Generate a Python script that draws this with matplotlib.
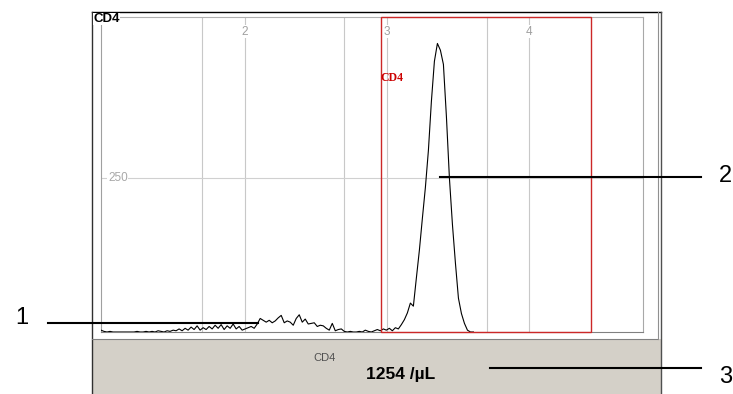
import numpy as np
import matplotlib
matplotlib.use("Agg")
import matplotlib.pyplot as plt
from matplotlib.patches import Rectangle

plt.rcParams['font.family'] = ['Liberation Sans', 'DejaVu Sans']

# CD4 histogram, counts per channel
cd4_counts = [
    3, 1, 0, 1, 0, 0, 0, 0, 0, 0, 0, 0,
    1, 0, 0, 1, 0, 1, 0, 2, 1, 0, 2, 1,
    3, 2, 5, 2, 6, 3, 8, 4, 10, 3, 7, 4,
    9, 5, 11, 6, 12, 4, 10, 6, 13, 5, 9, 3,
    5, 7, 9, 6, 13, 22, 19, 16, 19, 15, 18, 23,
    27, 15, 18, 16, 11, 22, 28, 16, 21, 13, 14, 15,
    9, 11, 10, 6, 3, 14, 2, 4, 5, 1, 0, 1,
    0, 0, 1, 0, 3, 1, 0, 2, 4, 2, 5, 3,
    6, 2, 7, 5,
    12, 20, 31, 47, 42, 88, 133, 185, 235, 295, 375, 440,
    469, 458, 435, 350, 250, 175, 112, 55, 30, 14, 3, 0, 0,
]
x_range = (9.7, 63000)          # fluorescence range of the axis
ch_per_decade = 47.33
grid_values = [50, 100, 500, 1000, 5000, 10000]
decade_values = [100, 1000, 10000]
decade_labels = ["2", "3", "4"]
y_max = 512
y_grid = 250
gate = (900, 27000)
gate_name = "CD4"
result_text = "1254 /\u00b5L"
callouts = ["1", "2", "3"]

log_lo = np.log10(x_range[0])


def chan(v):
    return (np.log10(v) - log_lo) * ch_per_decade


W, H = 733, 394
fig = plt.figure(figsize=(W / 100, H / 100), dpi=100)


def box(x0, y0, x1, y1):
    return [x0 / W, 1 - y1 / H, (x1 - x0) / W, (y1 - y0) / H]


# background window
bg = fig.add_axes([0, 0, 1, 1], zorder=0)
bg.set_xlim(0, W)
bg.set_ylim(H, 0)
bg.axis('off')
bg.add_patch(Rectangle((92, 339), 569, 55, fc='#D4D0C8', ec='none'))
bg.plot([92, 661], [12, 12], color='black', lw=1)
bg.plot([92, 92], [12, 394], color='#303030', lw=1)
bg.plot([661, 661], [12, 394], color='#505050', lw=1)
bg.plot([92, 658], [339, 339], color='#808080', lw=0.8)
bg.plot([658, 658], [12, 339], color='#909090', lw=0.8)

# histogram
ax = fig.add_axes(box(101, 17, 643, 332), zorder=1)
ax.patch.set_alpha(0)
ch = np.arange(len(cd4_counts))
ax.plot(ch, cd4_counts, color='black', lw=0.8, zorder=3)
ax.set_xlim(0, chan(x_range[1]))
ax.set_ylim(0, y_max)
ax.set_xticks([])
ax.set_yticks([])
for v in grid_values:
    ax.axvline(chan(v), color='#C8C8C8', lw=0.8, zorder=0)
ax.axhline(y_grid, color='#D0D0D0', lw=0.8, zorder=0)
for v, lab in zip(decade_values, decade_labels):
    ax.text(chan(v), 0.953, lab, transform=ax.get_xaxis_transform(),
            ha='center', va='center', color='#A0A0A0', fontsize=8.5,
            bbox=dict(fc='white', ec='none', pad=0.4), zorder=1)
ax.text(0.013, y_grid, str(y_grid), transform=ax.get_yaxis_transform(),
        ha='left', va='center', color='#A8A8A8', fontsize=8.5,
        bbox=dict(fc='white', ec='none', pad=0.4), zorder=1)
ax.spines['top'].set_color('#B0B0B0')
ax.spines['left'].set_color('#A0A0A0')
ax.spines['right'].set_color('#A8A8A8')
ax.spines['bottom'].set_color('#808080')
for s in ax.spines.values():
    s.set_linewidth(0.8)

# gate
ax.add_patch(Rectangle((chan(gate[0]), 0), chan(gate[1]) - chan(gate[0]), y_max,
                       fill=False, ec='#CC2828', lw=1, zorder=4, clip_on=False))
ax.text(chan(gate[0]), 413, gate_name, color='#CC0000', fontweight='bold',
        family=['Liberation Serif', 'DejaVu Serif'], fontsize=8.5,
        ha='left', va='center', zorder=5)

# overlay: labels and callouts
ov = fig.add_axes([0, 0, 1, 1], zorder=5)
ov.set_xlim(0, W)
ov.set_ylim(H, 0)
ov.axis('off')
ov.patch.set_alpha(0)
ov.text(93, 19, "CD4", fontsize=9.5, fontweight='bold', ha='left', va='center',
        bbox=dict(fc='white', ec='none', pad=0.3))
ov.text(325, 358, "CD4", fontsize=8, color='#505050', ha='center', va='center')
ov.text(401, 379, result_text, fontsize=12.5, fontweight='bold', ha='center', va='baseline')

ov.plot([48, 258], [323, 323], color='black', lw=1.5)
ov.plot([440, 701], [177, 177], color='black', lw=1.5)
ov.plot([490, 701], [368, 368], color='black', lw=1.5)
ov.text(15, 324, callouts[0], fontsize=17, ha='left', va='baseline')
ov.text(719, 182, callouts[1], fontsize=17, ha='left', va='baseline')
ov.text(719, 383, callouts[2], fontsize=17, ha='left', va='baseline')

fig.savefig("out.png", dpi=100)
